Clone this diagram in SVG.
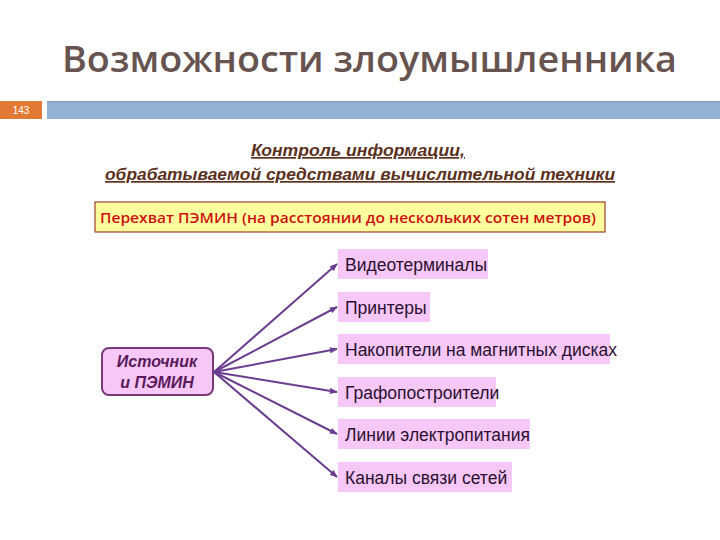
<svg xmlns="http://www.w3.org/2000/svg" width="720" height="540" viewBox="0 0 720 540">
<defs>
<style>
.title{font-family:"Open Sans","Noto Sans",sans-serif;font-size:36px;font-weight:600;fill:#675450;}
.sub{font-family:"Liberation Sans",Arial,sans-serif;font-size:17px;font-style:italic;font-weight:bold;fill:#5b3020;text-decoration:underline;}
.item{fill:#f7c8f7;}
.itxt{font-family:"Liberation Sans",Arial,sans-serif;font-size:17.5px;fill:#2a1030;}
.conn{stroke:#6a3d8f;stroke-width:2;fill:none;marker-end:url(#ah);}
</style>
<marker id="ah" viewBox="0 0 10 10" refX="9" refY="5" markerWidth="4" markerHeight="4" orient="auto" markerUnits="strokeWidth">
<path d="M0,1 L10,5 L0,9 Z" fill="#6a3d8f"/>
</marker>
</defs>
<rect width="720" height="540" fill="#ffffff"/>
<g id="title"><text class="title" x="62" y="72" textLength="615" lengthAdjust="spacingAndGlyphs">Возможности злоумышленника</text></g>
<g id="header-bar">
<rect x="0" y="101" width="42" height="18" fill="#e07a35"/>
<text x="21" y="114" text-anchor="middle" font-family="Liberation Sans,Arial,sans-serif" font-size="10" fill="#ffffff">143</text>
<rect x="47" y="101" width="673" height="18" fill="#94b2d4"/>
<rect x="47" y="101" width="673" height="1.5" fill="#7f9cbd"/>
</g>
<g id="subtitle">
<text class="sub" x="358" y="156" text-anchor="middle" textLength="214" lengthAdjust="spacingAndGlyphs">Контроль информации,</text>
<text class="sub" x="360" y="180" text-anchor="middle" textLength="510" lengthAdjust="spacingAndGlyphs">обрабатываемой средствами вычислительной техники</text>
</g>
<g id="intercept">
<rect x="95" y="202" width="510" height="30" fill="#ffff9e" stroke="#a0402a" stroke-width="1.2"/>
<text x="100" y="223" font-family="Open Sans,Noto Sans,sans-serif" font-size="15" font-weight="600" fill="#cc1010" textLength="496" lengthAdjust="spacingAndGlyphs">Перехват ПЭМИН (на расстоянии до нескольких сотен метров)</text>
</g>
<g id="source">
<rect x="102" y="348" width="111" height="47" rx="7" fill="#f7c8f7" stroke="#7a3a7a" stroke-width="2"/>
<text x="157" y="367" text-anchor="middle" font-family="Liberation Sans,Arial,sans-serif" font-size="16" font-style="italic" font-weight="bold" fill="#5a1a5a">Источник</text>
<text x="157" y="388" text-anchor="middle" font-family="Liberation Sans,Arial,sans-serif" font-size="16" font-style="italic" font-weight="bold" fill="#5a1a5a">и ПЭМИН</text>
</g>
<g id="connectors">
<line class="conn" x1="214" y1="372" x2="337" y2="264"/>
<line class="conn" x1="214" y1="372" x2="337" y2="307"/>
<line class="conn" x1="214" y1="372" x2="337" y2="349"/>
<line class="conn" x1="214" y1="372" x2="337" y2="392"/>
<line class="conn" x1="214" y1="372" x2="337" y2="434"/>
<line class="conn" x1="214" y1="372" x2="337" y2="477"/>
</g>
<g id="n1"><rect class="item" x="338" y="249" width="150" height="30"/><text class="itxt" x="345" y="271">Видеотерминалы</text></g>
<g id="n2"><rect class="item" x="338" y="292" width="92" height="30"/><text class="itxt" x="345" y="314">Принтеры</text></g>
<g id="n3"><rect class="item" x="338" y="334" width="272" height="30"/><text class="itxt" x="345" y="356">Накопители на магнитных дисках</text></g>
<g id="n4"><rect class="item" x="338" y="377" width="158" height="30"/><text class="itxt" x="345" y="399">Графопостроители</text></g>
<g id="n5"><rect class="item" x="338" y="419" width="192" height="30"/><text class="itxt" x="345" y="441">Линии электропитания</text></g>
<g id="n6"><rect class="item" x="338" y="462" width="174" height="30"/><text class="itxt" x="345" y="484">Каналы связи сетей</text></g>
</svg>
